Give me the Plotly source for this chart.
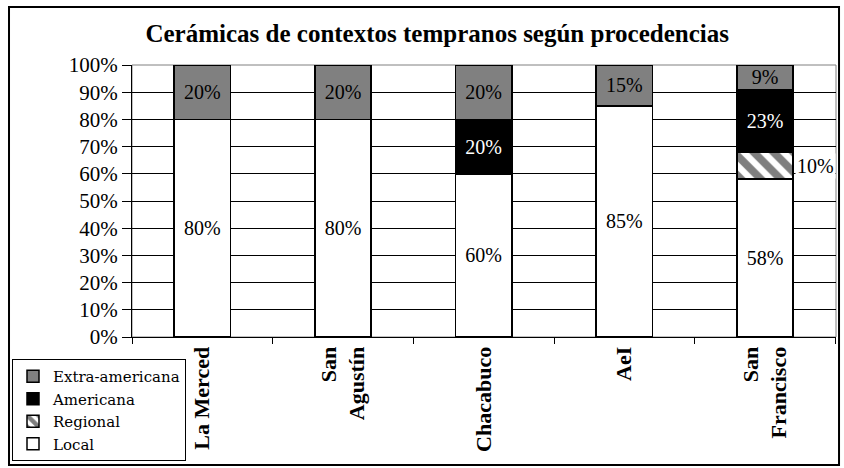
import plotly.graph_objects as go

# data
sites = ["La Merced", "San<br>Agustín", "Chacabuco", "AeI", "San<br>Francisco"]
local = [80, 80, 60, 85, 58]
regional = [0, 0, 0, 0, 10]
americana = [0, 0, 20, 0, 23]
extra = [20, 20, 20, 15, 9]

SERIF = "Liberation Serif"
WIDE_SERIF = "DejaVu Serif"


def pct_text(vals):
    return [f"{v}%" if v else "" for v in vals]


fig = go.Figure()
fig.add_trace(go.Bar(
    x=sites, y=local, name="Local", text=pct_text(local),
    marker=dict(color="white", line=dict(color="black", width=1.5)),
    textfont=dict(color="black", family=SERIF, size=20),
))
fig.add_trace(go.Bar(
    x=sites, y=regional, name="Regional",
    marker=dict(color="white", line=dict(color="black", width=1.5),
                pattern=dict(shape="\\", fgcolor="black", bgcolor="white",
                             size=14, solidity=0.55)),
))
fig.add_trace(go.Bar(
    x=sites, y=americana, name="Americana", text=pct_text(americana),
    marker=dict(color="black", line=dict(color="black", width=1.5)),
    textfont=dict(color="white", family=SERIF, size=20),
))
fig.add_trace(go.Bar(
    x=sites, y=extra, name="Extra-americana", text=pct_text(extra),
    marker=dict(color="#808080", line=dict(color="black", width=1.5)),
    textfont=dict(color="black", family=SERIF, size=20),
))

fig.update_traces(textposition="inside", insidetextanchor="middle",
                  textangle=0, constraintext="none",
                  selector=dict(type="bar"))

# the regional label sits outside the bar, on a white box
for s, v, base in zip(sites, regional, local):
    if v:
        fig.add_annotation(x=s, y=base + v / 2, text=f"{v}%", showarrow=False,
                           xanchor="left", xshift=30, bgcolor="white",
                           borderpad=1,
                           font=dict(size=20, color="black", family=SERIF))

# plot-area frame (grey) and outer chart frame (black)
fig.add_shape(type="rect", xref="paper", yref="paper", x0=0, x1=1, y0=0, y1=1,
              line=dict(color="#808080", width=1), layer="below")
fig.add_shape(type="rect", xref="paper", yref="paper",
              x0=-0.1747, x1=1.0043, y0=-0.4706, y1=1.213,
              line=dict(color="black", width=2))

fig.update_layout(
    width=844, height=468,
    margin=dict(l=132, r=8, t=65, b=131, autoexpand=False),
    barmode="stack", bargap=0.6,
    plot_bgcolor="white", paper_bgcolor="white",
    font=dict(family=SERIF, size=20, color="black"),
    title=dict(text="<b>Cerámicas de contextos tempranos según procedencias</b>",
               x=0.518, xanchor="center", y=1 - 33 / 468, yanchor="middle",
               font=dict(size=25, family=SERIF)),
    legend=dict(traceorder="reversed", xref="container", yref="container",
                x=12 / 844, y=1 - 359 / 468, xanchor="left", yanchor="top",
                bgcolor="white", bordercolor="black", borderwidth=1,
                font=dict(size=15, family=WIDE_SERIF), tracegroupgap=0,
                itemwidth=30),
    xaxis=dict(tickson="boundaries", ticks="outside", ticklen=6,
               tickcolor="black", showline=True, linecolor="black",
               linewidth=1, tickangle=-90, automargin=False,
               tickfont=dict(size=22, family=SERIF), showgrid=False),
    yaxis=dict(range=[0, 100], dtick=10, ticksuffix="%", ticks="outside",
               ticklen=9, tickcolor="black", showline=True, linecolor="black",
               linewidth=1, showgrid=True, gridcolor="black", gridwidth=1,
               automargin=False, tickfont=dict(size=21, family=SERIF),
               zeroline=False),
)

fig.update_xaxes(ticktext=["<b>" + s + "</b>" for s in sites], tickvals=sites)

# drop the browser's default body margin so the chart sits at (0, 0)
fig.write_html("out.html", config={"displayModeBar": False},
               post_script="document.body.style.margin='0';")
